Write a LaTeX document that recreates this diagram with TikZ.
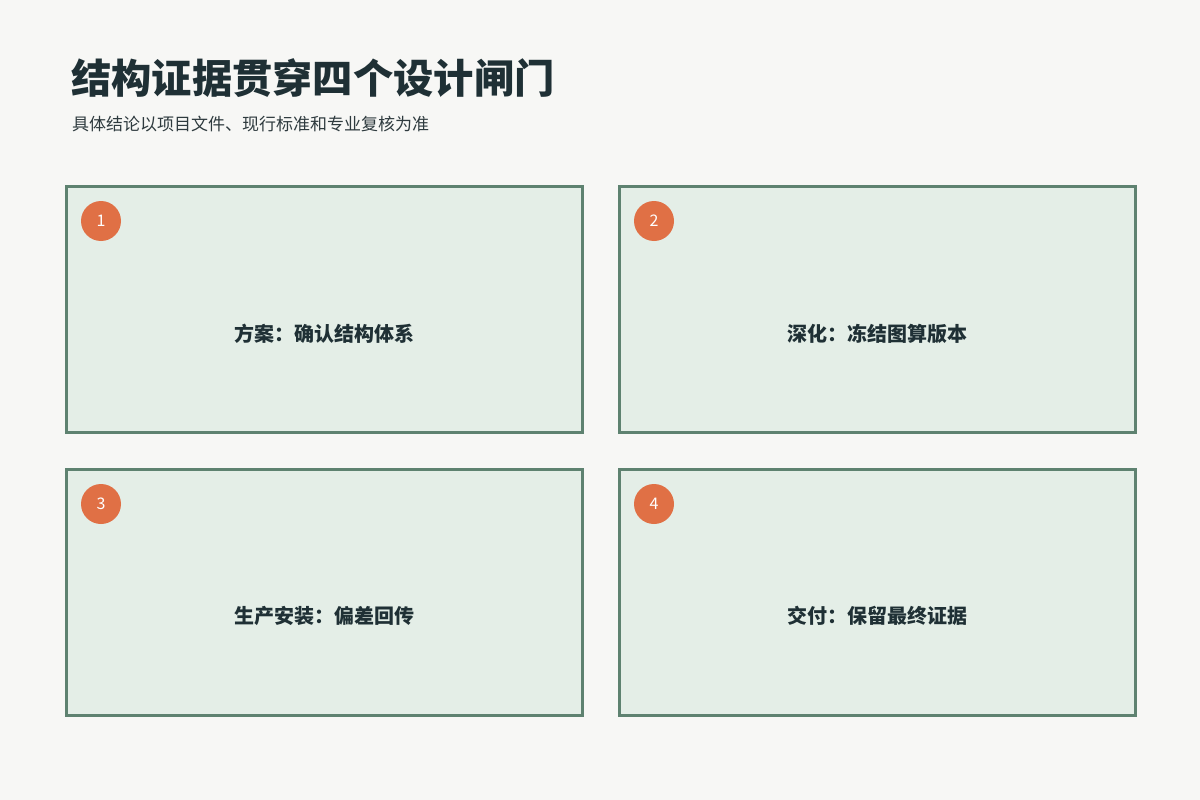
\documentclass[tikz,border=0pt]{standalone}
\usepackage{fontspec}
\setmainfont{Noto Sans CJK SC}
\definecolor{bg}{HTML}{F7F7F5}
\definecolor{boxfill}{HTML}{E4EEE7}
\definecolor{boxline}{HTML}{5E8270}
\definecolor{badge}{HTML}{E07045}
\definecolor{ink}{HTML}{1F3035}
\definecolor{sub}{HTML}{2E3A3E}
\begin{document}
\begin{tikzpicture}[x=1pt,y=-1pt,
  gate/.style={draw=boxline,line width=3pt,fill=boxfill,minimum width=516pt,minimum height=246pt,inner sep=0pt},
  badgecirc/.style={circle,fill=badge,minimum size=40pt,inner sep=0pt,text=white,font=\fontsize{16}{16}\selectfont},
  gatelabel/.style={text=ink,font=\fontsize{20}{20}\selectfont\bfseries,anchor=center}]
\fill[bg] (0,0) rectangle (1200,800);
\useasboundingbox (0,0) rectangle (1200,800);
\node[anchor=base west,text=ink,inner sep=0pt,font=\fontsize{40.3}{40.3}\selectfont\bfseries] (title) at (71,94) {结构证据贯穿四个设计闸门};
\node[anchor=base west,text=sub,inner sep=0pt,font=\fontsize{17}{17}\selectfont] (subtitle) at (72,130) {具体结论以项目文件、现行标准和专业复核为准};
\node[gate] (g1) at (324.5,309.5) {};
\node[gate] (g2) at (877.5,309.5) {};
\node[gate] (g3) at (324.5,592) {};
\node[gate] (g4) at (877.5,592) {};
\node[badgecirc] (b1) at (101,221) {1};
\node[badgecirc] (b2) at (654,221) {2};
\node[badgecirc] (b3) at (101,504) {3};
\node[badgecirc] (b4) at (654,504) {4};
\node[gatelabel] (l1) at (324.5,334) {方案：确认结构体系};
\node[gatelabel] (l2) at (877.5,334) {深化：冻结图算版本};
\node[gatelabel] (l3) at (324.5,616) {生产安装：偏差回传};
\node[gatelabel] (l4) at (877.5,616) {交付：保留最终证据};
\end{tikzpicture}
\end{document}
